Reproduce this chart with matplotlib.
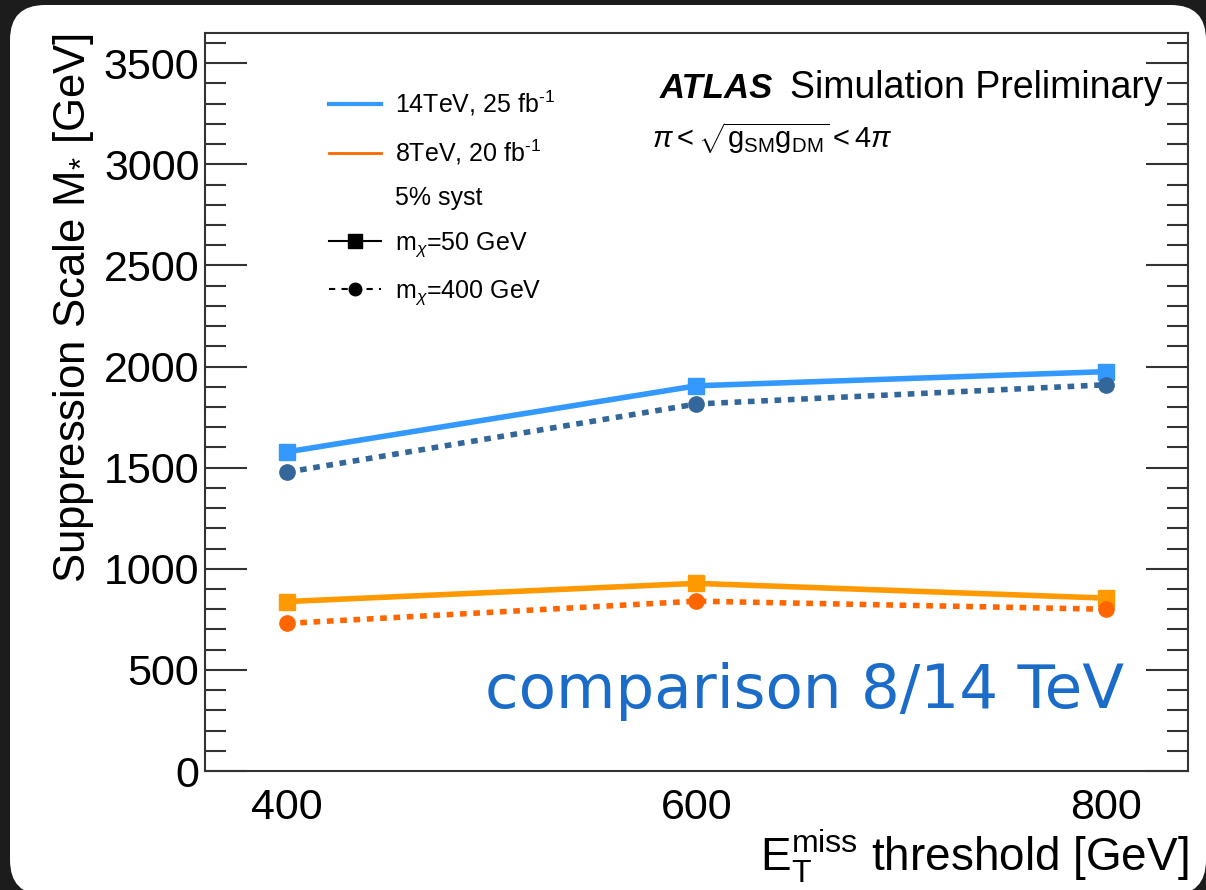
import numpy as np
import matplotlib.pyplot as plt
from matplotlib.lines import Line2D
from matplotlib.patches import FancyBboxPatch
from matplotlib.ticker import MultipleLocator

plt.rcParams['font.family'] = ['Liberation Sans', 'DejaVu Sans']
plt.rcParams['mathtext.fontset'] = 'custom'
plt.rcParams['mathtext.rm'] = 'Liberation Sans'
plt.rcParams['mathtext.it'] = 'Liberation Sans:italic'
plt.rcParams['mathtext.sf'] = 'Liberation Sans'

# data
met_threshold = [400, 600, 800]
m14_50 = [1578, 1905, 1975]
m14_400 = [1478, 1815, 1910]
m8_50 = [838, 928, 855]
m8_400 = [730, 840, 800]

fig = plt.figure(figsize=(12.06, 8.90), dpi=100, facecolor='#1c1c1c')
# white rounded card on dark background (pixel coords)
card = FancyBboxPatch((45, 30), 1126, 820,
                      boxstyle='round,pad=35', transform=None,
                      facecolor='white', edgecolor='none', zorder=-10)
fig.add_artist(card)

ax = fig.add_axes([0.170, 0.1337, 0.815, 0.8293])
ax.set_facecolor('white')

ax.plot(met_threshold, m14_50, '-s', color='#3399ff', lw=4, ms=11)
ax.plot(met_threshold, m14_400, ':o', color='#336699', lw=4, ms=11, dashes=(1.2, 1.2))
ax.plot(met_threshold, m8_50, '-s', color='#ff9900', lw=4, ms=11)
ax.plot(met_threshold, m8_400, ':o', color='#ff6600', lw=4, ms=11, dashes=(1.2, 1.2))

ax.set_xlim(360, 840)
ax.set_ylim(0, 3650)
ax.set_xticks(met_threshold)
ax.yaxis.set_major_locator(MultipleLocator(500))
ax.yaxis.set_minor_locator(MultipleLocator(100))
ax.tick_params(axis='y', which='major', direction='in', length=30, width=1.5,
               right=True, labelsize=31, colors='#333333', labelcolor='black', pad=4)
ax.tick_params(axis='y', which='minor', direction='in', length=15, width=1.5,
               right=True, colors='#333333')
ax.tick_params(axis='x', which='both', length=0, labelsize=31, pad=12)
for s in ax.spines.values():
    s.set_color('#333333')
    s.set_linewidth(1.5)

ax.set_ylabel(r'Suppression Scale M$_{*}$ [GeV]', fontsize=31.5, loc='top', labelpad=6)
ax.set_xlabel(r'E$_\mathrm{T}^\mathrm{miss}$ threshold [GeV]', fontsize=33, loc='right', labelpad=0)

handles = [
    Line2D([], [], color='#3399ff', lw=3),
    Line2D([], [], color='#ff6600', lw=2),
    Line2D([], [], color='none'),
    Line2D([], [], color='black', lw=1.5, marker='s', ms=10),
    Line2D([], [], color='black', lw=1.5, ls='--', marker='o', ms=9, dashes=(3, 3)),
]
labels = [r'14TeV, 25 fb$^{\text{-}1}$', r'8TeV, 20 fb$^{\text{-}1}$', '5% syst',
          r'm$_{\chi}$=50 GeV', r'm$_{\chi}$=400 GeV']
ax.legend(handles, labels, loc='upper left', bbox_to_anchor=(0.103, 0.955),
          frameon=False, fontsize=18, handlelength=2.1, handletextpad=0.55,
          labelspacing=0.78)

ax.text(0.463, 0.925, 'ATLAS', transform=ax.transAxes, fontsize=25,
        fontweight='bold', fontstyle='italic', va='center')
ax.text(0.595, 0.925, 'Simulation Preliminary', transform=ax.transAxes,
        fontsize=27, va='center')
ax.text(0.455, 0.858, r'$\pi < \sqrt{\mathrm{g_{SM}g_{DM}}} < 4\pi$',
        transform=ax.transAxes, fontsize=21, va='center')

ax.text(0.935, 0.108, 'comparison 8/14 TeV', transform=ax.transAxes,
        fontsize=44, color='#1a6cc8', ha='right', va='center',
        family='DejaVu Sans')

fig.savefig('out.png', dpi=100, facecolor=fig.get_facecolor())
